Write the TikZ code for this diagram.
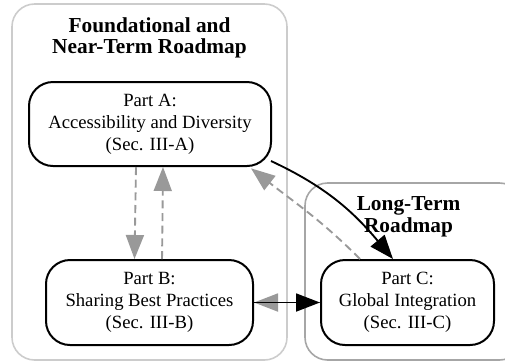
\documentclass[tikz,border=0pt]{standalone}
\usepackage{fontspec}
\setmainfont{Liberation Serif}
\usetikzlibrary{arrows.meta}
\definecolor{edgegray}{HTML}{999999}
\definecolor{lightframe}{HTML}{CCCCCC}
\definecolor{darkframe}{HTML}{A6A6A6}

\begin{document}
\begin{tikzpicture}[x=0.75pt,y=0.75pt,
  part/.style={draw, line width=1.5pt, rounded corners=18pt, align=center,
    font=\fontsize{14}{16.5}\selectfont, inner sep=0pt},
  title/.style={align=center, font=\fontsize{16}{16.25}\selectfont\bfseries},
  link/.style={line width=1.4pt, -{Triangle[length=18pt,width=13.5pt]}},
  back/.style={link, edgegray, dash pattern=on 6pt off 3.5pt}]
\useasboundingbox (0,0) rectangle (505,-362);
\clip (0,0) rectangle (505,-362);
% roadmap frames
\draw[lightframe, line width=1.2pt, rounded corners=17pt] (12,-4) rectangle (287,-360);
\draw[darkframe, line width=1.2pt, rounded corners=17pt] (305,-183) rectangle (522,-360);
\node[title] (nearterm) at (149.5,-38) {Foundational and\\Near-Term Roadmap};
\node[title] (longterm) at (408.5,-217) {Long-Term\\Roadmap};
% the three parts
\node[part, minimum width=181.5pt, minimum height=63pt] (partA) at (150,-124) {Part A:\\Accessibility and Diversity\\(Sec. III-A)};
\node[part, minimum width=155.25pt, minimum height=63.75pt] (partB) at (149.5,-302.5) {Part B:\\Sharing Best Practices\\(Sec. III-B)};
\node[part, minimum width=129.75pt, minimum height=63.75pt] (partC) at (407.5,-302.5) {Part C:\\Global Integration\\(Sec. III-C)};
% links
\draw[back] ([xshift=-10.5pt]partA.south) -- ([xshift=-11.25pt]partB.north);
\draw[back] ([xshift=9.4pt]partB.north) -- ([xshift=9.75pt]partA.south);
\draw[back] ([xshift=-35.6pt]partC.north) to[out=135,in=-38] ([xshift=-15.75pt,yshift=-1pt]partA.south east);
\draw[link] ([shift={(-0.75pt,4.5pt)}]partA.south east) to[out=-25,in=130] ([xshift=-10.9pt]partC.north);
\draw[back, solid] (partC.west) -- (partB.east);
\draw[link] (partB.east) -- (partC.west);
\end{tikzpicture}
\end{document}
